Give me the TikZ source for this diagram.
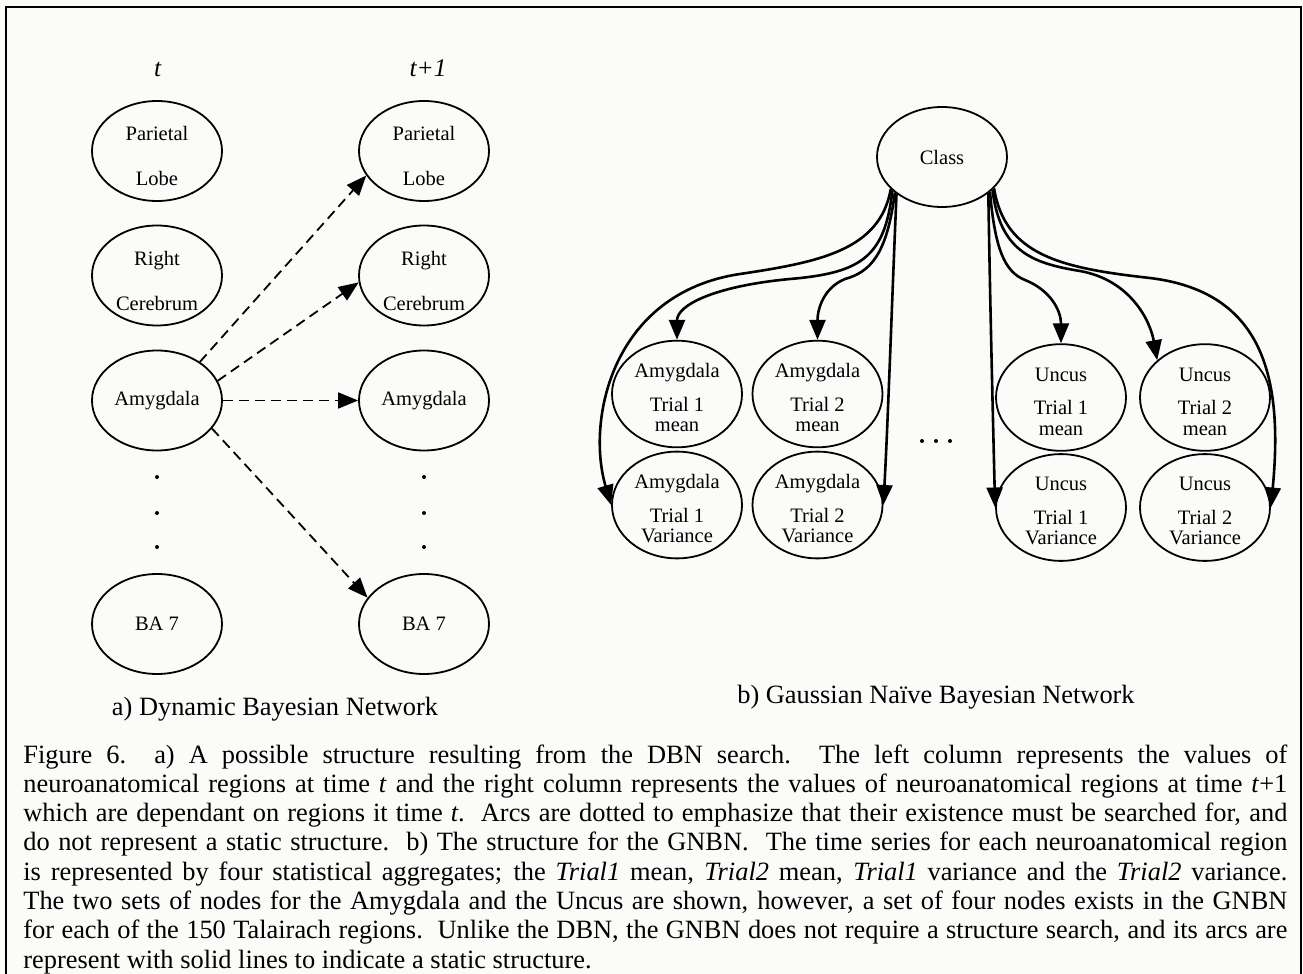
\documentclass[tikz,border=0pt]{standalone}
\usepackage{fontspec}
\setmainfont{Liberation Serif}
\usepackage{tikz}
\usetikzlibrary{arrows.meta}
\usetikzlibrary{shapes.geometric}
\definecolor{paper}{RGB}{251,251,249}
\tikzset{>={Triangle[length=10pt,width=8pt]}}
\tikzstyle{region} = [draw, ellipse, line width=0.9pt, minimum width=65pt, minimum height=50pt, inner sep=0pt, align=center, font=\fontsize{10.25}{10}\selectfont]
\tikzstyle{dbnarc} = [->, dash pattern=on 5pt off 3pt, line width=0.9pt]
\tikzstyle{gnbnarc} = [->, line width=1.3pt]
\tikzstyle{tlabel} = [anchor=base, inner sep=0, font=\fontsize{12.7}{14}\selectfont]
\tikzstyle{subcap} = [anchor=base, inner sep=0, font=\fontsize{13.2}{15}\selectfont]
\tikzstyle{capline} = [anchor=base west, inner sep=0, font=\fontsize{13.2}{15}\selectfont]
\newcommand{\tallstrut}{\rule{0pt}{12.2pt}}
\newcommand{\midstrut}{\rule{0pt}{10.6pt}}

\begin{document}
\begin{tikzpicture}[x=0.5pt, y=-0.5pt]
\fill [paper] (0,0) rectangle (1303,974);
\useasboundingbox (0,0) rectangle (1303,974);
\draw [line width=1pt] (5.5,990) -- (5.5,7) -- (1301,7) -- (1301,990);

% a) time slices t and t+1
\node [tlabel] (tL) at (158,77) {\textit{t}};
\node [tlabel] (tR) at (428,77) {\textit{t+1}};
\node [region] (parL) at (157,151) {\tallstrut Parietal\\[12.5pt]Lobe};
\node [region] (cerL) at (157,275.5) {\tallstrut Right\\[12.5pt]Cerebrum};
\node [region] (amyL) at (157,400.5) {Amygdala};
\node [region] (baL) at (157,624) {BA 7};
\node [region] (parR) at (424,151) {\tallstrut Parietal\\[12.5pt]Lobe};
\node [region] (cerR) at (424,275.5) {\tallstrut Right\\[12.5pt]Cerebrum};
\node [region] (amyR) at (424,400.5) {Amygdala};
\node [region] (baR) at (424,624) {BA 7};
\foreach \y in {477,513,547} {
  \fill (157,\y) circle (1pt);
  \fill (424,\y) circle (1pt);
}
\draw [dbnarc] (amyL.42) to (parR.203);
\draw [dbnarc] (amyL.18) to (cerR.186);
\draw [dbnarc] (amyL) to (amyR);
\draw [dbnarc] (amyL.333) to (baR.155);
\node [subcap] (capA) at (275,715) {a) Dynamic Bayesian Network};

% b) class node and its children
\node [region] (class) at (942,157) {Class};
\node [region] (amean1) at (677,394) {\midstrut Amygdala\\[7pt]Trial 1\\mean};
\node [region] (amean2) at (817.5,394) {\midstrut Amygdala\\[7pt]Trial 2\\mean};
\node [region] (avar1) at (677,505) {\midstrut Amygdala\\[7pt]Trial 1\\Variance};
\node [region] (avar2) at (817.5,505) {\midstrut Amygdala\\[7pt]Trial 2\\Variance};
\node [region] (umean1) at (1061,397.5) {\midstrut Uncus\\[7pt]Trial 1\\mean};
\node [region] (umean2) at (1205,397.5) {\midstrut Uncus\\[7pt]Trial 2\\mean};
\node [region] (uvar1) at (1061,507.5) {\midstrut Uncus\\[7pt]Trial 1\\Variance};
\node [region] (uvar2) at (1205,507.5) {\midstrut Uncus\\[7pt]Trial 2\\Variance};
\foreach \x in {922,936,950}
  \fill (\x,441) circle (1pt);
\draw [gnbnarc] (class.212) .. controls (880,250) and (820,262) .. (740,274) .. controls (612,293) and (586,420) .. (avar1.west);
\draw [gnbnarc] (class.214) .. controls (885,258) and (860,273) .. (790,279) .. controls (715,286) and (677,305) .. (amean1.north);
\draw [gnbnarc] (class.217) .. controls (887,255) and (870,272) .. (845,279) .. controls (823,288) and (817.5,310) .. (amean2.north);
\draw [gnbnarc] (class.219) .. controls (892,300) and (888,420) .. (avar2.east);
\draw [gnbnarc] (class.322) .. controls (990,300) and (993,420) .. (uvar1.west);
\draw [gnbnarc] (class.324) .. controls (995,250) and (1005,272) .. (1025,280) .. controls (1050,290) and (1061,310) .. (umean1.north);
\draw [gnbnarc] (class.327) .. controls (1000,250) and (1030,263) .. (1080,271) .. controls (1130,280) and (1150,320) .. (umean2.142);
\draw [gnbnarc] (class.329) .. controls (1005,255) and (1060,268) .. (1150,278) .. controls (1265,292) and (1283,380) .. (uvar2.east);
\node [subcap] (capB) at (936,703) {b) Gaussian Naïve Bayesian Network};

% figure caption
\node [capline] (cap1) at (23,763) {\makebox[632pt][s]{Figure 6.\ \ a) A possible structure resulting from the DBN search.\ \ The left column represents the values of}};
\node [capline] (cap2) at (23,792.3) {\makebox[632pt][s]{neuroanatomical regions at time \textit{t} and the right column represents the values of neuroanatomical regions at time \textit{t}+1}};
\node [capline] (cap3) at (23,821.6) {\makebox[632pt][s]{which are dependant on regions it time \textit{t}.\ \ Arcs are dotted to emphasize that their existence must be searched for, and}};
\node [capline] (cap4) at (23,850.9) {\makebox[632pt][s]{do not represent a static structure.\ \ b) The structure for the GNBN.\ \ The time series for each neuroanatomical region}};
\node [capline] (cap5) at (23,880.2) {\makebox[632pt][s]{is represented by four statistical aggregates; the \textit{Trial1} mean, \textit{Trial2} mean, \textit{Trial1} variance and the \textit{Trial2} variance.}};
\node [capline] (cap6) at (23,909.5) {\makebox[632pt][s]{The two sets of nodes for the Amygdala and the Uncus are shown, however, a set of four nodes exists in the GNBN}};
\node [capline] (cap7) at (23,938.8) {\makebox[632pt][s]{for each of the 150 Talairach regions.\ \ Unlike the DBN, the GNBN does not require a structure search, and its arcs are}};
\node [capline] (cap8) at (23,968.1) {represent with solid lines to indicate a static structure.};
\end{tikzpicture}
\end{document}
